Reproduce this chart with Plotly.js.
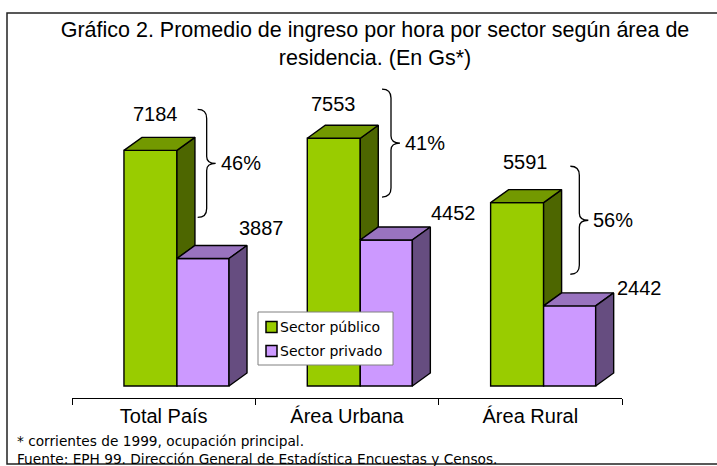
<!DOCTYPE html>
<html>
<head>
<meta charset="utf-8">
<script src="https://cdn.plot.ly/plotly-3.0.1.min.js"></script>
<style>html,body{margin:0;padding:0;background:#fff;}#chart{width:717px;height:466px;}</style>
</head>
<body>
<div id="chart"></div>
<script>
// ---- data ----
var categories = ['Total País', 'Área Urbana', 'Área Rural'];
var seriesNames = ['Sector público', 'Sector privado'];
var publico = [7184, 7553, 5591];
var privado = [3887, 4452, 2442];
var titleLine1 = 'Gráfico 2. Promedio de ingreso por hora por sector según área de';
var titleLine2 = 'residencia. (En Gs*)';
var footnote1 = '* corrientes de 1999, ocupación principal.';
var footnote2 = 'Fuente: EPH 99. Dirección General de Estadística Encuestas y Censos.';

// ---- layout geometry / styles ----
var W = 717, H = 466;
var M = {l: 72, r: 95, t: 60, b: 68};
var plotW = W - M.l - M.r, plotH = H - M.t - M.b;
var pxPerCat = plotW / categories.length;
var pxPerVal = 0.0328;            // vertical scale
var baseGapPx = 12;               // bars stand above the axis line
var yMin = -baseGapPx / pxPerVal;
var yMax = yMin + plotH / pxPerVal;
var depthX = 18 / pxPerCat;       // 3D depth in category units
var depthY = 13 / pxPerVal;       // 3D depth in value units
var gOff = -0.2166, gW = 0.289;   // public bar offset/width
var pOff = gOff + gW, pW = 0.284; // private bar offset/width

var col = {
  gFront: '#99CC00', gTop: '#739900', gSide: '#4D6600',
  pFront: '#CC99FF', pTop: '#9973BF', pSide: '#664D80'
};
var seriesColors = [col.gFront, col.pFront];
var edge = {color: '#000', width: 1.4};

// label placement (pixel shifts)
var pubShift = [[5, 36], [0, 34], [8, 41]];
var privShift = [[59, 31], [67, 27], [70, 18]];
var braceX = [34, 35, 40];
var braceLift = [41, 46, 34];

var xs = categories.map(function (c, i) { return i; });

var traces = [
  {type: 'bar', name: seriesNames[0], x: xs, y: publico, offset: gOff, width: gW,
   marker: {color: col.gFront, line: edge}, hoverinfo: 'skip', showlegend: false},
  {type: 'bar', name: seriesNames[1], x: xs, y: privado, offset: pOff, width: pW,
   marker: {color: col.pFront, line: edge}, hoverinfo: 'skip', showlegend: false}
];

function poly(xArr, yArr, color) {
  traces.push({type: 'scatter', mode: 'lines', x: xArr.concat([xArr[0]]), y: yArr.concat([yArr[0]]),
    fill: 'toself', fillcolor: color, line: {color: edge.color, width: edge.width},
    showlegend: false, hoverinfo: 'skip'});
}

xs.forEach(function (i) {
  var v = publico[i], p = privado[i];
  var gx0 = i + gOff, gx1 = gx0 + gW;
  var px0 = i + pOff, px1 = px0 + pW;
  // public: visible part of right side (above private top), then top face
  poly([gx1, gx1, gx1 + depthX, gx1 + depthX], [p, v, v + depthY, p + depthY], col.gSide);
  poly([gx0, gx1, gx1 + depthX, gx0 + depthX], [v, v, v + depthY, v + depthY], col.gTop);
  // private: top face and right side
  poly([px0, px1, px1 + depthX, px0 + depthX], [p, p, p + depthY, p + depthY], col.pTop);
  poly([px1, px1, px1 + depthX, px1 + depthX], [0, p, p + depthY, depthY], col.pSide);
});

var annotations = [];
var shapes = [];
var txtFont = {family: 'Liberation Sans, Arial, sans-serif', size: 20, color: '#000'};

xs.forEach(function (i) {
  var v = publico[i], p = privado[i];
  annotations.push({x: i + gOff + gW / 2, y: v, xref: 'x', yref: 'y', text: String(v),
    showarrow: false, xshift: pubShift[i][0], yshift: pubShift[i][1], font: txtFont});
  annotations.push({x: i + pOff + pW / 2, y: p, xref: 'x', yref: 'y', text: String(p),
    showarrow: false, xshift: privShift[i][0], yshift: privShift[i][1], font: txtFont});
  var pct = Math.round((v - p) / v * 100) + '%';
  var mid = (v + p) / 2;
  var L = braceLift[i], bx = braceX[i];
  annotations.push({x: i, y: mid, xref: 'x', yref: 'y', text: pct, showarrow: false,
    xanchor: 'left', xshift: bx + 21, yshift: L, font: txtFont});
  var path = 'M' + bx + ',' + (L + 54) +
    ' Q' + (bx + 9) + ',' + (L + 54) + ' ' + (bx + 9) + ',' + (L + 45) +
    ' L' + (bx + 9) + ',' + (L + 7) +
    ' Q' + (bx + 9) + ',' + L + ' ' + (bx + 18) + ',' + L +
    ' Q' + (bx + 9) + ',' + L + ' ' + (bx + 9) + ',' + (L - 7) +
    ' L' + (bx + 9) + ',' + (L - 45) +
    ' Q' + (bx + 9) + ',' + (L - 54) + ' ' + bx + ',' + (L - 54);
  shapes.push({type: 'path', xref: 'x', yref: 'y', xsizemode: 'pixel', ysizemode: 'pixel',
    xanchor: i, yanchor: mid, path: path, line: {color: '#000', width: 1.3}});
});

function pxX(px) { return (px - M.l) / plotW; }
function pxY(py) { return (H - M.b - py) / plotH; }

var noteFont = {family: 'DejaVu Sans, sans-serif', size: 13.7, color: '#000'};
annotations.push({xref: 'paper', yref: 'paper', x: pxX(15), y: pxY(441), xanchor: 'left', yanchor: 'middle',
  text: footnote1, showarrow: false, font: noteFont});
annotations.push({xref: 'paper', yref: 'paper', x: pxX(15), y: pxY(459), xanchor: 'left', yanchor: 'middle',
  text: footnote2, showarrow: false, font: noteFont});

// legend box (drawn with shapes + text)
var legFont = {family: 'DejaVu Sans, sans-serif', size: 14, color: '#000'};
var legBox = {x0: 258, x1: 393, y0: 312, y1: 365};
var legRows = [327, 351];
shapes.push({type: 'rect', xref: 'paper', yref: 'paper', x0: pxX(legBox.x0), x1: pxX(legBox.x1),
  y0: pxY(legBox.y1), y1: pxY(legBox.y0), line: {color: '#808080', width: 1}, fillcolor: '#fff', layer: 'above'});
seriesNames.forEach(function (nm, k) {
  var cy = legRows[k];
  shapes.push({type: 'rect', xref: 'paper', yref: 'paper', x0: pxX(266), x1: pxX(277),
    y0: pxY(cy + 5.5), y1: pxY(cy - 5.5), line: {color: '#000', width: 1.5}, fillcolor: seriesColors[k], layer: 'above'});
  annotations.push({xref: 'paper', yref: 'paper', x: pxX(278), y: pxY(cy), xanchor: 'left', yanchor: 'middle',
    text: nm, showarrow: false, font: legFont});
});

// outer frame
shapes.push({type: 'rect', xref: 'paper', yref: 'paper', x0: pxX(7), x1: pxX(722), y0: pxY(464), y1: pxY(13),
  line: {color: '#222', width: 1.5}, fillcolor: 'rgba(0,0,0,0)', layer: 'below'});

var layout = {
  width: W, height: H, margin: M,
  paper_bgcolor: '#fff', plot_bgcolor: 'rgba(0,0,0,0)',
  barmode: 'overlay',
  showlegend: false,
  title: {
    text: titleLine1 + '<br>' + titleLine2, xref: 'container', x: 375 / W, xanchor: 'center',
    yref: 'container', y: 1 - 37 / H, yanchor: 'middle',
    font: {family: 'Liberation Sans, Arial, sans-serif', size: 21.5, color: '#000'}
  },
  xaxis: {
    range: [-0.5, categories.length - 0.5], tickvals: xs, ticktext: categories,
    ticks: '', showline: false, showgrid: false, zeroline: false,
    tickfont: txtFont, fixedrange: true, ticklabelstandoff: 4
  },
  xaxis2: {
    overlaying: 'x', anchor: 'y', side: 'bottom',
    range: [-0.5, categories.length - 0.5],
    tickvals: categories.map(function (c, i) { return i - 0.5; }).concat([categories.length - 0.5]),
    ticks: 'outside', ticklen: 6, tickcolor: '#000', tickwidth: 1,
    showticklabels: false, showline: true, linecolor: '#000', linewidth: 1,
    showgrid: false, zeroline: false
  },
  yaxis: {range: [yMin, yMax], visible: false, showgrid: false, zeroline: false, fixedrange: true},
  annotations: annotations,
  shapes: shapes
};

// dummy trace for xaxis2 so its ticks/line render
traces.push({type: 'scatter', x: [0], y: [null], xaxis: 'x2', yaxis: 'y', showlegend: false, hoverinfo: 'skip'});

Plotly.newPlot('chart', traces, layout, {staticPlot: true, displayModeBar: false});
</script>
</body>
</html>
